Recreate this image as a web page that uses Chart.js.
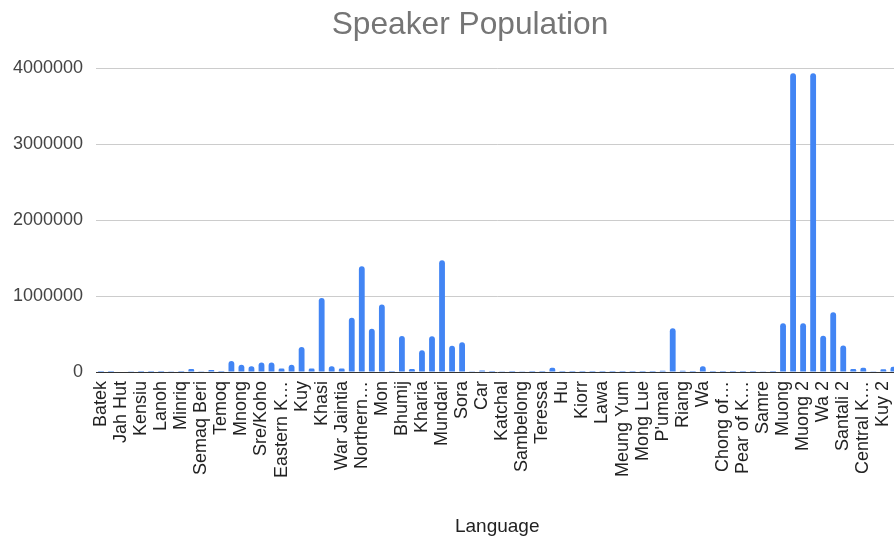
<!DOCTYPE html>
<html>
<head>
<meta charset="utf-8">
<script src="https://cdn.jsdelivr.net/npm/chart.js@4/dist/chart.umd.min.js"></script>
<style>
  html, body { margin: 0; padding: 0; background: #ffffff; overflow: hidden; width: 894px; height: 541px; }
  canvas { display: block; }
</style>
</head>
<body>
<canvas id="chart" width="940" height="541"></canvas>
<script>
// Languages in chart order; only every other name is printed under the axis,
// the unprinted ones are left blank.
const languages = [
  "Batek", "", "Jah Hut", "", "Kensiu", "", "Lanoh", "", "Minriq", "",
  "Semaq Beri", "", "Temoq", "", "Mnong", "", "Sre/Koho", "", "Eastern K\u2026", "",
  "Kuy", "", "Khasi", "", "War Jaintia", "", "Northern\u2026", "", "Mon", "",
  "Bhumij", "", "Kharia", "", "Mundari", "", "Sora", "", "Car", "",
  "Katchal", "", "Sambelong", "", "Teressa", "", "Hu", "", "Kiorr", "",
  "Lawa", "", "Meung Yum", "", "Mong Lue", "", "P'uman", "", "Riang", "",
  "Wa", "", "Chong of\u2026", "", "Pear of K\u2026", "", "Samre", "", "Muong", "",
  "Muong 2", "", "Wa 2", "", "Santali 2", "", "Central K\u2026", "", "Kuy 2", ""
];

// Speaker population for each language above
const speakers = [
  1500, 400, 5000, 2000, 300, 100, 350, 4000, 400, 40000,
  3500, 25000, 300, 145000, 96000, 75000, 124000, 124000, 45000, 97000,
  330000, 45000, 975000, 75000, 45000, 715000, 1390000, 570000, 887000, 1000,
  475000, 40000, 285000, 470000, 1470000, 345000, 390000, 2000, 20000, 1500,
  2500, 1000, 2000, 800, 1000, 55000, 1000, 1500, 1000, 1500,
  1500, 1000, 800, 500, 800, 600, 15000, 575000, 15000, 1000,
  75000, 500, 500, 500, 500, 300, 3000, 500, 640000, 3930000,
  640000, 3930000, 478000, 785000, 348000, 38000, 55000, 2000, 37000, 70000
];

// Value axis ticks
const yTicks = [0, 1000000, 2000000, 3000000, 4000000];

const FONT = "'Liberation Sans', Arial, Helvetica, sans-serif";

new Chart(document.getElementById('chart'), {
  type: 'bar',
  data: {
    labels: languages,
    datasets: [{
      label: 'Speaker Population',
      data: speakers,
      backgroundColor: '#4285f4',
      borderRadius: 3,
      barPercentage: 0.58,
      categoryPercentage: 1.0
    }]
  },
  options: {
    responsive: false,
    animation: false,
    events: [],
    layout: { padding: 0 },
    plugins: {
      legend: { display: false },
      tooltip: { enabled: false },
      title: {
        display: true,
        text: 'Speaker Population',
        color: '#757575',
        font: { family: FONT, size: 31.7, weight: 'normal' },
        padding: { top: 6, bottom: 24 }
      }
    },
    scales: {
      x: {
        grid: { display: false, drawTicks: false },
        border: { display: true, color: '#333333', width: 1 },
        ticks: {
          autoSkip: false,
          maxRotation: 90,
          minRotation: 90,
          padding: 9,
          color: '#222222',
          font: { family: FONT, size: 18 }
        },
        title: {
          display: true,
          text: 'Language',
          color: '#222222',
          font: { family: FONT, size: 19 },
          padding: { top: 0, bottom: 3 }
        },
        afterFit: (scale) => { scale.height = 169; }
      },
      y: {
        min: yTicks[0],
        max: yTicks[yTicks.length - 1],
        grid: { color: '#cccccc', lineWidth: 1, drawTicks: false },
        border: { display: false },
        afterBuildTicks: (scale) => { scale.ticks = yTicks.map(v => ({ value: v })); },
        ticks: {
          padding: 13,
          color: '#444444',
          font: { family: FONT, size: 18 },
          callback: (v) => String(v)
        },
        afterFit: (scale) => { scale.width = 96; }
      },
      // empty right-hand margin beside the plot
      margin: {
        position: 'right',
        grid: { display: false, drawTicks: false },
        border: { display: false },
        ticks: { display: false },
        afterFit: (scale) => { scale.width = 41.6; }
      }
    }
  }
});
</script>
</body>
</html>
